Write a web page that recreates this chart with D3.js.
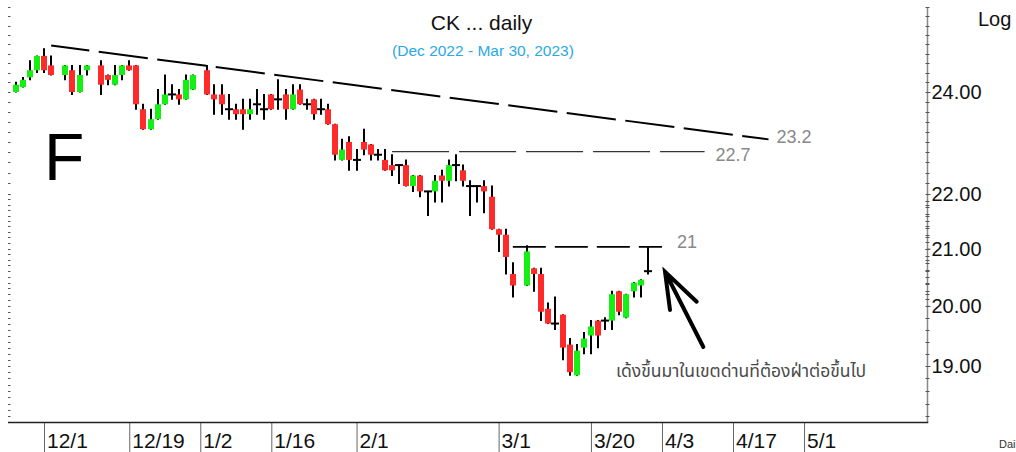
<!DOCTYPE html>
<html>
<head>
<meta charset="utf-8">
<script src="https://cdn.jsdelivr.net/npm/d3@7"></script>
<style>
	body { margin: 0; background: #fff; }
	svg { display: block; font-family: "Liberation Sans", Arial, sans-serif; }
</style>
</head>
<body>
<svg class="canvas" width="1016" height="452"></svg>
<script>

var dates = [
	'2022-11-25','2022-11-28','2022-11-29','2022-11-30','2022-12-01','2022-12-02',
	'2022-12-06','2022-12-07','2022-12-08','2022-12-09',
	'2022-12-13','2022-12-14','2022-12-15','2022-12-16','2022-12-19','2022-12-20','2022-12-21','2022-12-22','2022-12-23',
	'2022-12-26','2022-12-27','2022-12-28','2022-12-29','2022-12-30',
	'2023-01-03','2023-01-04','2023-01-05','2023-01-06','2023-01-09','2023-01-10','2023-01-11','2023-01-12','2023-01-13',
	'2023-01-16','2023-01-17','2023-01-18','2023-01-19','2023-01-20','2023-01-23','2023-01-24','2023-01-25','2023-01-26','2023-01-27',
	'2023-01-30','2023-01-31','2023-02-01','2023-02-02','2023-02-03','2023-02-06','2023-02-07','2023-02-08','2023-02-09','2023-02-10',
	'2023-02-13','2023-02-14','2023-02-15','2023-02-16','2023-02-17','2023-02-20','2023-02-21','2023-02-22','2023-02-23','2023-02-24',
	'2023-02-27','2023-02-28','2023-03-01','2023-03-02','2023-03-03',
	'2023-03-07','2023-03-08','2023-03-09','2023-03-10','2023-03-13','2023-03-14','2023-03-15','2023-03-16','2023-03-17',
	'2023-03-20','2023-03-21','2023-03-22','2023-03-23','2023-03-24','2023-03-27','2023-03-28','2023-03-29','2023-03-30'
];
var opens = [
	24.0, 24.1, 24.3, 24.45, 24.75, 24.55,
	24.35, 24.45, 24.0, 24.45,
	24.55, 24.35, 24.15, 24.35, 24.55, 24.55, 23.65, 23.25, 23.45,
	23.75, 23.95, 23.95, 23.85, 24.05,
	24.45, 23.95, 23.95, 23.65, 23.65, 23.65, 23.55, 23.75, 23.65,
	23.95, 23.85, 23.95, 23.65, 24.05, 23.75, 23.85, 23.65, 23.65, 23.35,
	22.65, 23.0, 22.65, 23.0, 22.95, 22.75, 22.65, 22.55, 22.55, 22.55,
	22.15, 22.35, 22.05, 22.05, 22.35, 22.25, 22.55, 22.45, 22.15, 22.15,
	22.15, 21.95, 21.35, 21.25, 20.55,
	20.35, 20.65, 20.55, 19.95, 19.7, 19.85, 19.35, 18.85, 19.3,
	19.5, 19.75, 19.75, 19.75, 20.25, 19.8, 20.25, 20.35, 20.6
];
var highs = [
	24.2, 24.3, 24.65, 24.75, 24.9, 24.75,
	24.55, 24.55, 24.55, 24.55,
	24.65, 24.35, 24.55, 24.55, 24.65, 24.55, 23.75, 23.65, 24.05,
	24.35, 24.15, 24.05, 24.35, 24.35,
	24.55, 24.15, 24.15, 23.95, 23.75, 23.85, 23.85, 24.05, 23.95,
	23.95, 24.25, 24.05, 24.15, 24.15, 23.85, 23.85, 23.85, 23.75, 23.35,
	23.05, 23.1, 22.85, 23.25, 22.95, 22.85, 22.85, 22.75, 22.55, 22.65,
	22.35, 22.35, 22.05, 22.35, 22.45, 22.65, 22.75, 22.55, 22.25, 22.15,
	22.25, 22.15, 21.35, 21.35, 20.75,
	21.05, 20.65, 20.65, 20.05, 20.15, 19.85, 19.45, 19.35, 19.55,
	19.75, 19.75, 19.8, 20.25, 20.25, 20.2, 20.4, 20.45, 21.03
];
var lows = [
	24.0, 24.1, 24.25, 24.4, 24.4, 24.35,
	24.25, 23.95, 24.0, 24.35,
	23.95, 24.15, 24.15, 24.25, 24.45, 23.65, 23.25, 23.25, 23.45,
	23.75, 23.85, 23.75, 23.85, 24.05,
	23.95, 23.55, 23.55, 23.45, 23.45, 23.25, 23.45, 23.55, 23.45,
	23.65, 23.65, 23.45, 23.65, 23.75, 23.65, 23.45, 23.55, 23.35, 22.65,
	22.65, 22.45, 22.45, 22.75, 22.65, 22.65, 22.45, 22.35, 22.2, 22.15,
	22.05, 21.95, 21.6, 21.85, 21.85, 22.15, 22.25, 22.15, 21.6, 21.85,
	21.65, 21.35, 20.95, 20.55, 20.15,
	20.35, 20.25, 19.75, 19.7, 19.6, 19.1, 18.85, 18.85, 19.2,
	19.2, 19.3, 19.6, 19.6, 19.85, 19.8, 20.15, 20.15, 20.55
];
var closes = [
	24.15, 24.25, 24.45, 24.75, 24.45, 24.35,
	24.55, 24.0, 24.35, 24.55,
	24.15, 24.25, 24.35, 24.55, 24.45, 23.75, 23.25, 23.45, 23.75,
	23.95, 23.95, 23.85, 24.25, 24.35,
	23.95, 23.85, 23.75, 23.65, 23.55, 23.55, 23.65, 23.75, 23.65,
	23.65, 23.85, 23.65, 23.95, 23.75, 23.75, 23.55, 23.65, 23.35, 22.75,
	22.85, 22.65, 22.65, 22.85, 22.75, 22.75, 22.45, 22.45, 22.55, 22.15,
	22.35, 22.05, 22.05, 22.25, 22.25, 22.55, 22.55, 22.25, 22.15, 22.15,
	22.05, 21.35, 21.25, 20.85, 20.35,
	20.95, 20.55, 19.9, 19.7, 19.7, 19.3, 18.9, 19.25, 19.45,
	19.65, 19.5, 19.75, 20.2, 19.9, 20.2, 20.4, 20.45, 20.6
];

var tick_dates = ['2022-12-01','2022-12-19','2023-01-02','2023-01-16','2023-02-01','2023-03-01','2023-03-20','2023-04-03','2023-04-17','2023-05-01'];
var tick_labels = ['12/1','12/19','1/2','1/16','2/1','3/1','3/20','4/3','4/17','5/1'];
var price_ticks = [19, 20, 21, 22, 24];

// trend lines (start date, start value, end date, end value, label)
var trend_start = ['2022-12-02','2023-02-08','2023-03-03'];
var trend_from = [24.97, 22.81, 21.03];
var trend_end = ['2023-04-24','2023-04-11','2023-04-03'];
var trend_to = [23.05, 22.81, 21.03];
var trend_labels = ['23.2','22.7','21'];

// arrow annotation, in weekday index / price
var arrow_idx = [97.82, 92.43, 93.13, 92.43, 96.89];
var arrow_val = [19.31, 20.59, 19.93, 20.59, 20.07];

var svg = d3.select('.canvas');
var parse = d3.utcParse('%Y-%m-%d');

// weekday axis (holidays stay as empty slots)
var all_days = d3.utcDays(parse('2022-11-24'), parse('2023-05-26')).filter(function(d) {
	return d.getUTCDay() != 0 && d.getUTCDay() != 6;
});
var day_index = {};
all_days.forEach(function(d, i) { day_index[+d] = i; });
function idx(s) { return day_index[+parse(s)]; }

var x = d3.scaleLinear().domain([0, all_days.length - 1]).range([8.5, 931.9]);
var y = d3.scaleLog().domain([19, 24]).range([366, 92]);

var axis_x = 927.5, axis_y = 422.5;

var candles = dates.map(function(d, i) {
	return { i: idx(d), o: opens[i], h: highs[i], l: lows[i], c: closes[i] };
});

// LEFT MINOR TICKS
var left_ticks = d3.range(22, 25.8, 0.2).concat(d3.range(18.2, 22, 0.1));
svg.append('g').selectAll('line')
	.data(left_ticks)
	.enter().append('line')
	.attr('x1', 8).attr('x2', 10.5)
	.attr('y1', function(d) { return Math.round(y(d)) + 0.5; })
	.attr('y2', function(d) { return Math.round(y(d)) + 0.5; })
	.attr('stroke', '#555')
	.attr('stroke-width', 1);

// RIGHT AXIS
var right_ticks = d3.range(18.2, 25.8, 0.2).concat(d3.range(20.125, 22, 0.125));
svg.append('line')
	.attr('x1', axis_x).attr('x2', axis_x)
	.attr('y1', 8).attr('y2', axis_y)
	.attr('stroke', '#888')
	.attr('stroke-width', 1.5);
svg.append('g').selectAll('line')
	.data(right_ticks)
	.enter().append('line')
	.attr('x1', axis_x - 2).attr('x2', axis_x + 2)
	.attr('y1', function(d) { return Math.round(y(d)) + 0.5; })
	.attr('y2', function(d) { return Math.round(y(d)) + 0.5; })
	.attr('stroke', '#555');

var y_axis = svg.append('g')
	.attr('transform', 'translate(' + axis_x + ',0)')
	.call(d3.axisRight(y).tickValues(price_ticks).tickFormat(d3.format('.2f')).tickSize(3).tickPadding(1));
y_axis.select('.domain').remove();
y_axis.selectAll('line').attr('stroke', '#555');
y_axis.selectAll('text')
	.attr('font-size', 20)
	.attr('font-family', '"Liberation Sans", Arial, sans-serif')
	.attr('fill', '#111');

svg.append('text')
	.attr('x', 978).attr('y', 26)
	.attr('font-size', 20)
	.attr('fill', '#111')
	.text('Log');

// BOTTOM AXIS
var x_axis = svg.append('g')
	.attr('transform', 'translate(0,' + axis_y + ')')
	.call(d3.axisBottom(x)
		.tickValues(tick_dates.map(idx))
		.tickFormat(function(d, i) { return tick_labels[i]; })
		.tickSize(30));
x_axis.select('.domain').remove();
x_axis.selectAll('line').attr('stroke', '#666');
x_axis.selectAll('text')
	.attr('text-anchor', 'start')
	.attr('x', 2.5)
	.attr('y', 25)
	.attr('dy', 0)
	.attr('font-size', 21)
	.attr('font-family', '"Liberation Sans", Arial, sans-serif')
	.attr('fill', '#111');
svg.append('line')
	.attr('x1', 8).attr('x2', axis_x + 0.75)
	.attr('y1', axis_y).attr('y2', axis_y)
	.attr('stroke', '#222')
	.attr('stroke-width', 1.5);

svg.append('text')
	.attr('x', 999).attr('y', 448)
	.attr('font-size', 11)
	.attr('fill', '#333')
	.text('Daily');

// TITLE
svg.append('text')
	.attr('x', 481.5).attr('y', 30)
	.attr('text-anchor', 'middle')
	.attr('font-size', 21)
	.attr('fill', '#111')
	.text('CK ... daily');
svg.append('text')
	.attr('x', 483).attr('y', 56)
	.attr('text-anchor', 'middle')
	.attr('font-size', 15.5)
	.attr('fill', '#29a9e6')
	.text('(Dec 2022 - Mar 30, 2023)');

svg.append('text')
	.attr('x', 44).attr('y', 180)
	.attr('font-size', 66)
	.attr('fill', '#000')
	.text('F');

// TREND LINES
var trend_styles = [
	{ w: 2, dash: '49.5,9.5', off: 11, col: '#000', dx: 8, dy: 3.5 },
	{ w: 1.2, dash: '57,10', off: 0, col: '#333', dx: 11, dy: 9 },
	{ w: 1.8, dash: '33,9', off: 0, col: '#000', dx: 15, dy: 1.5 }
];
var trends = svg.append('g').selectAll('g')
	.data(trend_labels)
	.enter().append('g');
trends.append('line')
	.attr('x1', function(d, i) { return x(idx(trend_start[i])); })
	.attr('y1', function(d, i) { return y(trend_from[i]); })
	.attr('x2', function(d, i) { return x(idx(trend_end[i])); })
	.attr('y2', function(d, i) { return y(trend_to[i]); })
	.attr('stroke', function(d, i) { return trend_styles[i].col; })
	.attr('stroke-width', function(d, i) { return trend_styles[i].w; })
	.attr('stroke-dasharray', function(d, i) { return trend_styles[i].dash; })
	.attr('stroke-dashoffset', function(d, i) { return trend_styles[i].off; });
trends.append('text')
	.attr('x', function(d, i) { return x(idx(trend_end[i])) + trend_styles[i].dx; })
	.attr('y', function(d, i) { return y(trend_to[i]) + trend_styles[i].dy; })
	.attr('font-size', 18)
	.attr('fill', '#888')
	.text(function(d) { return d; });

// CANDLES
var bars = svg.append('g').selectAll('g')
	.data(candles)
	.enter().append('g')
	.attr('transform', function(d) { return 'translate(' + Math.round(x(d.i)) + ',0)'; });

bars.append('line')
	.attr('x1', 0).attr('x2', 0)
	.attr('y1', function(d) { return y(d.h) - 0.5; })
	.attr('y2', function(d) { return y(d.l) + 0.5; })
	.attr('stroke', '#000')
	.attr('stroke-width', 2);

bars.filter(function(d) { return d.o != d.c; })
	.append('rect')
	.attr('x', -3)
	.attr('width', 6)
	.attr('y', function(d) { return y(Math.max(d.o, d.c)); })
	.attr('height', function(d) { return Math.max(2, y(Math.min(d.o, d.c)) - y(Math.max(d.o, d.c))); })
	.attr('fill', function(d) { return d.c > d.o ? '#14f014' : '#ff2b2b'; });

bars.filter(function(d) { return d.o == d.c; })
	.append('line')
	.attr('x1', -4).attr('x2', 4)
	.attr('y1', function(d) { return y(d.o); })
	.attr('y2', function(d) { return y(d.o); })
	.attr('stroke', '#000')
	.attr('stroke-width', 2);

// ARROW
var arrow_pts = arrow_idx.map(function(d, i) { return [x(d), y(arrow_val[i])]; });
svg.append('path')
	.attr('d', d3.line()([arrow_pts[0], arrow_pts[1]]) + d3.line()([arrow_pts[2], arrow_pts[3], arrow_pts[4]]))
	.attr('fill', 'none')
	.attr('stroke', '#000')
	.attr('stroke-width', 4)
	.attr('stroke-linecap', 'round')
	.attr('stroke-linejoin', 'miter');

svg.append('text')
	.attr('x', 616).attr('y', 377)
	.attr('font-size', 17.5)
	.attr('font-family', 'Tahoma, "Noto Sans Thai", "Noto Sans", sans-serif')
	.attr('fill', '#4a4a4a')
	.text('เด้งขึ้นมาในเขตด่านที่ต้องฝ่าต่อขึ้นไป');

</script>
</body>
</html>
